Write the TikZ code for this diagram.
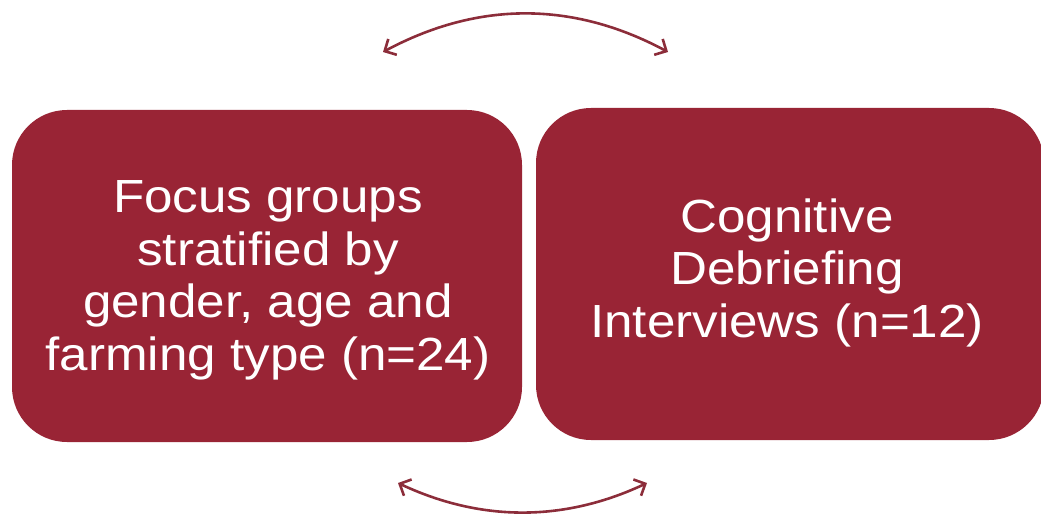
\documentclass[tikz,border=0pt]{standalone}
\usepackage{fontspec}
\setmainfont{Liberation Sans}
\newfontfamily\widesans[FakeStretch=1.1]{Liberation Sans}
\usetikzlibrary{arrows.meta}
\definecolor{boxred}{RGB}{153,36,53}
\definecolor{arrowred}{RGB}{140,45,58}
\tikzset{
  box/.style={fill=boxred, rounded corners=55pt, text=white, align=center,
    font=\widesans\fontsize{46.5}{52.5}\selectfont, inner sep=0pt},
  swap/.style={draw=arrowred, line width=2.6pt, {Straight Barb[length=9pt,width=18pt]}-{Straight Barb[length=9pt,width=18pt]}}
}
\begin{document}
\begin{tikzpicture}[x=1pt,y=-1pt]
\useasboundingbox (0,0) rectangle (1041,516);
\node[box, minimum width=510pt, minimum height=332pt] (box1) at (267,276) {};
\node[box, minimum width=508pt, minimum height=332pt] (box2) at (790,274) {};
\node[box, fill=none, anchor=base] (t1) at (268,370)
  {Focus groups\\stratified by\\gender, age and\\farming type (n=24)};
\node[box, fill=none, anchor=base] (t2) at (787,337)
  {Cognitive\\Debriefing\\Interviews (n=12)};
\coordinate (ta) at (383,52);
\coordinate (tb) at (668,52);
\coordinate (ba) at (398,483);
\coordinate (bb) at (647,483);
\draw[swap] (ta) .. controls (478,1) and (573,1) .. (tb);
\draw[swap] (ba) .. controls (481,522) and (564,522) .. (bb);
\end{tikzpicture}
\end{document}
